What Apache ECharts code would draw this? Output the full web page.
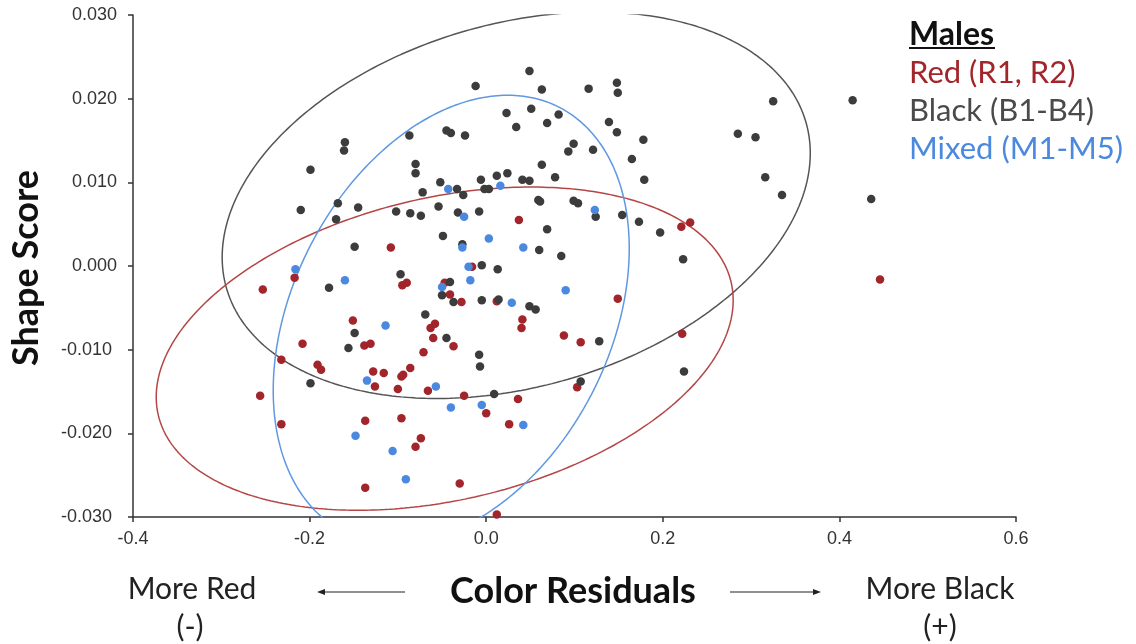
<!DOCTYPE html>
<html>
<head>
<meta charset="utf-8">
<script src="https://cdn.jsdelivr.net/npm/echarts@6/dist/echarts.min.js"></script>
<style>
html,body{margin:0;padding:0;background:#fff;}
#chart{width:1136px;height:644px;}
</style>
</head>
<body>
<div id="chart"></div>
<script>
// Axis ticks
const xTicks = [-0.4, -0.2, 0.0, 0.2, 0.4, 0.6];
const yTicks = [-0.03, -0.02, -0.01, 0.0, 0.01, 0.02, 0.03];

// Red males (color residual, shape score)
const redX = [-0.108,-0.217,-0.253,-0.095,-0.090,0.037,0.221,0.231,-0.047,-0.016,
  -0.151,-0.208,-0.138,-0.131,-0.232,-0.191,-0.187,-0.128,-0.116,-0.096,
  -0.094,-0.086,-0.071,-0.126,-0.100,-0.066,-0.256,-0.232,-0.137,-0.096,
  -0.074,-0.080,-0.137,-0.041,-0.028,0.012,0.149,0.041,0.040,-0.063,
  -0.058,-0.060,-0.037,0.088,0.107,0.222,-0.025,0.036,0.000,0.026,
  0.103,-0.030,0.012,0.446];
const redY = [0.0022,-0.0014,-0.0028,-0.0023,-0.0020,0.0055,0.0047,0.0052,-0.0020,-0.0001,
  -0.0065,-0.0093,-0.0095,-0.0093,-0.0112,-0.0118,-0.0124,-0.0126,-0.0128,-0.0132,
  -0.0130,-0.0122,-0.0103,-0.0144,-0.0147,-0.0149,-0.0155,-0.0189,-0.0185,-0.0182,
  -0.0206,-0.0216,-0.0265,-0.0034,-0.0043,-0.0042,-0.0039,-0.0064,-0.0074,-0.0074,
  -0.0069,-0.0086,-0.0096,-0.0083,-0.0091,-0.0081,-0.0155,-0.0159,-0.0176,-0.0189,
  -0.0145,-0.0260,-0.0297,-0.0016];

// Black males
const blackX = [-0.087,-0.160,-0.161,-0.199,-0.080,-0.080,-0.072,-0.210,-0.168,-0.145,
  -0.170,-0.102,-0.086,-0.074,-0.149,-0.097,-0.178,0.049,-0.012,0.063,
  0.116,0.148,0.149,0.023,0.051,0.082,0.069,0.034,0.139,0.148,
  0.178,-0.045,-0.040,-0.024,0.099,0.093,0.121,0.165,0.063,0.078,
  0.179,-0.052,-0.033,-0.006,0.012,0.024,0.041,0.049,-0.002,0.003,
  -0.026,0.059,0.061,0.099,0.104,-0.054,-0.032,-0.008,0.124,0.154,
  0.173,0.197,0.069,-0.049,-0.027,0.060,0.085,0.223,-0.005,0.013,
  -0.041,-0.069,-0.149,-0.156,-0.199,-0.050,-0.037,-0.005,0.014,0.049,
  0.056,-0.045,-0.008,-0.007,0.009,0.107,0.128,0.224,0.325,0.415,
  0.285,0.305,0.316,0.335,0.436];
const blackY = [0.0156,0.0148,0.0138,0.0115,0.0122,0.0111,0.0088,0.0067,0.0075,0.0070,
  0.0056,0.0065,0.0063,0.0060,0.0023,-0.0010,-0.0026,0.0233,0.0215,0.0211,
  0.0212,0.0219,0.0207,0.0183,0.0188,0.0181,0.0171,0.0166,0.0172,0.0160,
  0.0151,0.0162,0.0159,0.0156,0.0146,0.0137,0.0139,0.0128,0.0121,0.0106,
  0.0103,0.0100,0.0092,0.0103,0.0108,0.0111,0.0103,0.0102,0.0092,0.0092,
  0.0085,0.0079,0.0077,0.0078,0.0075,0.0071,0.0064,0.0065,0.0059,0.0061,
  0.0053,0.0040,0.0044,0.0036,0.0026,0.0019,0.0012,0.0008,0.0001,-0.0004,
  -0.0019,-0.0058,-0.0080,-0.0098,-0.0140,-0.0035,-0.0043,-0.0041,-0.0040,-0.0048,
  -0.0052,-0.0086,-0.0106,-0.0120,-0.0153,-0.0138,-0.0090,-0.0126,0.0197,0.0198,
  0.0158,0.0154,0.0106,0.0085,0.0080];

// Mixed males
const mixedX = [-0.216,-0.160,-0.043,0.016,-0.025,0.003,-0.027,0.042,0.123,-0.020,
  -0.018,-0.050,0.090,-0.114,-0.135,-0.148,-0.106,-0.091,0.029,-0.057,
  -0.040,-0.005,0.042];
const mixedY = [-0.0004,-0.0017,0.0092,0.0096,0.0059,0.0033,0.0022,0.0022,0.0067,-0.0001,
  -0.0017,-0.0025,-0.0029,-0.0071,-0.0137,-0.0203,-0.0221,-0.0255,-0.0044,-0.0144,
  -0.0169,-0.0166,-0.0190];

// Ellipses: [centerX, centerY, u_x, u_y, v_x, v_y] (conjugate half-diameters)
const ellipseRed = [-0.047, -0.00988, 0.3267, 0.00578, 0, 0.01843];
const ellipseBlack = [0.034, 0.00726, 0.333, 0.00622, 0, 0.02224];
const ellipseMixed = [-0.0396, -0.00638, 0.2016, 0.00849, 0, 0.02541];

const legendLabels = ['Males', 'Red (R1, R2)', 'Black (B1-B4)', 'Mixed (M1-M5)'];

function pairs(xs, ys) { return xs.map((x, i) => [x, ys[i]]); }
function ellipsePts(e) {
  const pts = [];
  const n = 360;
  for (let i = 0; i <= n; i++) {
    const t = 2 * Math.PI * i / n;
    pts.push([e[0] + e[2] * Math.cos(t) + e[4] * Math.sin(t),
              e[1] + e[3] * Math.cos(t) + e[5] * Math.sin(t)]);
  }
  return pts;
}

const C_RED = '#a1252a', C_BLACK = '#3c3c3c', C_BLUE = '#4a89df';
const L_RED = '#b44646', L_BLACK = '#555555', L_BLUE = '#5f98e2';

const chart = echarts.init(document.getElementById('chart'), null, {renderer: 'canvas'});
const axisCommon = {
  type: 'value',
  splitLine: {show: false},
  axisLine: {show: true, onZero: false, lineStyle: {color: '#333', width: 1.5}},
  axisTick: {show: true, inside: false, length: 5, lineStyle: {color: '#333', width: 1.5}},
};
const option = {
  animation: false,
  backgroundColor: '#fff',
  grid: {left: 133, right: 120, top: 15, bottom: 127, containLabel: false},
  xAxis: Object.assign({}, axisCommon, {
    min: xTicks[0], max: xTicks[xTicks.length - 1], interval: 0.2,
    axisLabel: {color: '#333', fontSize: 18, fontFamily: 'Liberation Sans', margin: 13,
      formatter: v => v.toFixed(1)}
  }),
  yAxis: Object.assign({}, axisCommon, {
    min: yTicks[0], max: yTicks[yTicks.length - 1], interval: 0.01,
    axisLabel: {color: '#333', fontSize: 18, fontFamily: 'Liberation Sans', margin: 16,
      formatter: v => (v < -1e-9 ? '{n|' + v.toFixed(3) + '}' : v.toFixed(3)),
      rich: {n: {fontSize: 18, fontFamily: 'Liberation Sans', color: '#333', padding: [0, 5, 0, 0]}}}
  }),
  series: [
    {type: 'line', data: ellipsePts(ellipseBlack), showSymbol: false, symbol: 'none', clip: true,
      lineStyle: {color: L_BLACK, width: 1.5}, z: 1, silent: true},
    {type: 'line', data: ellipsePts(ellipseRed), showSymbol: false, symbol: 'none', clip: true,
      lineStyle: {color: L_RED, width: 1.5}, z: 1, silent: true},
    {type: 'line', data: ellipsePts(ellipseMixed), showSymbol: false, symbol: 'none', clip: true,
      lineStyle: {color: L_BLUE, width: 1.5}, z: 1, silent: true},
    {type: 'scatter', data: pairs(redX, redY), symbolSize: 8.5, itemStyle: {color: C_RED, opacity: 1}, z: 2},
    {type: 'scatter', data: pairs(blackX, blackY), symbolSize: 8.5, itemStyle: {color: C_BLACK, opacity: 1}, z: 3},
    {type: 'scatter', data: pairs(mixedX, mixedY), symbolSize: 8.5, itemStyle: {color: C_BLUE, opacity: 1}, z: 4}
  ],
  graphic: [
    {type: 'text', x: 909, y: 35, style: {text: legendLabels[0], font: 'bold 32px Lato', fill: '#111', verticalAlign: 'middle'}},
    {type: 'line', shape: {x1: 909, y1: 48, x2: 995, y2: 48}, style: {stroke: '#111', lineWidth: 2}},
    {type: 'text', x: 909, y: 73, style: {text: legendLabels[1], font: '31px Lato', fill: C_RED, verticalAlign: 'middle'}},
    {type: 'text', x: 909, y: 111, style: {text: legendLabels[2], font: '31px Lato', fill: '#4a4a4a', verticalAlign: 'middle'}},
    {type: 'text', x: 909, y: 149, style: {text: legendLabels[3], font: '31px Lato', fill: C_BLUE, verticalAlign: 'middle'}},
    {type: 'text', x: 26, y: 268, rotation: Math.PI / 2,
      style: {text: 'Shape Score', font: 'bold 36px Lato', fill: '#111', align: 'center', verticalAlign: 'middle'}},
    {type: 'text', x: 573, y: 591,
      style: {text: 'Color Residuals', font: 'bold 36px Lato', fill: '#111', align: 'center', verticalAlign: 'middle'}},
    {type: 'text', x: 192, y: 589,
      style: {text: 'More Red', font: '30px Lato', fill: '#222', align: 'center', verticalAlign: 'middle'}},
    {type: 'text', x: 190, y: 627,
      style: {text: '(-)', font: '30px Lato', fill: '#222', align: 'center', verticalAlign: 'middle'}},
    {type: 'text', x: 940, y: 589,
      style: {text: 'More Black', font: '30px Lato', fill: '#222', align: 'center', verticalAlign: 'middle'}},
    {type: 'text', x: 940, y: 627,
      style: {text: '(+)', font: '30px Lato', fill: '#222', align: 'center', verticalAlign: 'middle'}},
    {type: 'line', shape: {x1: 322, y1: 592, x2: 405, y2: 592}, style: {stroke: '#222', lineWidth: 1.2}},
    {type: 'polygon', shape: {points: [[317, 592], [325, 589], [325, 595]]}, style: {fill: '#222'}},
    {type: 'line', shape: {x1: 730, y1: 592, x2: 815, y2: 592}, style: {stroke: '#222', lineWidth: 1.2}},
    {type: 'polygon', shape: {points: [[821, 592], [813, 589], [813, 595]]}, style: {fill: '#222'}}
  ]
};
chart.setOption(option);
</script>
</body>
</html>
